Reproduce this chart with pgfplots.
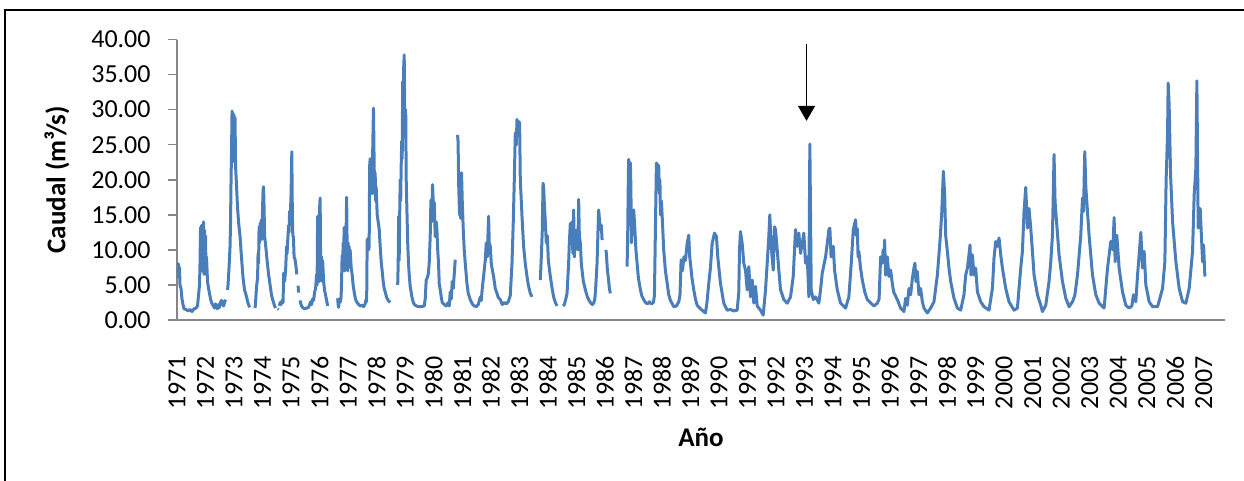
\documentclass[border=0pt]{standalone}
\usepackage{fontspec}
\setmainfont{Carlito}
\usepackage{pgfplots}
\pgfplotsset{compat=1.18}
\usepackage{pgfplotstable}
\usetikzlibrary{arrows.meta}
\definecolor{serie}{RGB}{74,126,187}
\definecolor{axgray}{RGB}{134,134,134}

\pgfplotstableread{
yr q
1971.000 6.0
1971.018 8.0
1971.035 7.2
1971.053 8.0
1971.070 6.0
1971.088 7.5
1971.105 5.0
1971.140 4.5
1971.175 3.0
1971.211 2.2
1971.246 1.6
1971.316 1.5
1971.386 1.3
1971.456 1.5
1971.526 1.2
1971.596 1.6
1971.667 1.7
1971.719 2.0
1971.754 3.5
1971.789 5.0
1971.807 8.0
1971.825 13.2
1971.842 8.5
1971.860 13.5
1971.877 7.0
1971.895 12.5
1971.912 9.0
1971.930 14.0
1971.947 6.5
1971.965 12.8
1971.982 7.0
1972.000 12.0
1972.018 6.5
1972.035 9.0
1972.070 5.5
1972.105 4.5
1972.140 3.8
1972.175 3.0
1972.211 2.5
1972.246 2.2
1972.281 2.0
1972.316 1.7
1972.351 2.3
1972.386 1.8
1972.421 1.6
1972.456 2.2
1972.491 1.8
1972.526 2.5
1972.561 2.8
1972.596 2.4
1972.632 2.0
1972.667 2.5
1972.702 2.9
1972.740 nan
1972.772 4.3
1972.789 5.0
1972.825 7.5
1972.860 10.5
1972.877 14.0
1972.895 20.0
1972.912 24.0
1972.930 29.8
1972.947 23.0
1972.965 29.5
1972.982 24.0
1973.000 29.2
1973.018 22.5
1973.035 28.8
1973.053 22.0
1973.088 19.0
1973.123 16.0
1973.158 14.0
1973.211 11.9
1973.263 8.8
1973.316 6.0
1973.368 4.3
1973.439 3.3
1973.491 2.4
1973.544 1.8
1973.600 nan
1973.737 1.7
1973.754 2.5
1973.789 4.8
1973.825 6.0
1973.842 9.5
1973.860 8.1
1973.877 13.3
1973.895 11.0
1973.912 13.8
1973.930 12.0
1973.947 14.0
1973.965 14.3
1973.982 11.5
1974.000 16.0
1974.018 18.5
1974.035 19.0
1974.053 16.0
1974.070 12.0
1974.088 11.4
1974.123 10.0
1974.158 8.5
1974.211 6.5
1974.263 5.0
1974.316 3.5
1974.368 2.7
1974.421 2.0
1974.456 1.7
1974.490 nan
1974.530 1.6
1974.561 1.5
1974.580 nan
1974.596 2.0
1974.614 2.5
1974.649 2.2
1974.684 2.8
1974.719 2.5
1974.737 6.7
1974.754 6.3
1974.772 5.5
1974.807 7.0
1974.842 10.5
1974.860 9.5
1974.877 11.0
1974.912 13.5
1974.930 12.5
1974.947 15.5
1974.965 14.0
1974.982 16.0
1975.000 18.0
1975.025 24.0
1975.042 16.0
1975.060 12.0
1975.081 11.9
1975.105 9.0
1975.140 8.6
1975.175 7.5
1975.200 6.5
1975.220 nan
1975.246 4.9
1975.263 3.9
1975.290 nan
1975.316 2.8
1975.333 2.4
1975.368 2.0
1975.421 1.7
1975.474 1.6
1975.544 1.7
1975.614 1.8
1975.649 2.2
1975.684 2.6
1975.719 2.2
1975.754 3.0
1975.789 2.8
1975.825 4.0
1975.860 4.5
1975.895 6.5
1975.912 5.0
1975.930 14.8
1975.947 7.0
1975.965 12.5
1975.982 5.5
1976.000 16.0
1976.018 17.4
1976.035 8.0
1976.053 6.0
1976.070 9.0
1976.088 5.5
1976.105 8.5
1976.123 7.0
1976.140 5.5
1976.175 4.2
1976.211 3.5
1976.246 2.8
1976.281 2.0
1976.300 nan
1976.632 3.1
1976.649 2.2
1976.667 1.8
1976.684 3.0
1976.719 2.5
1976.754 3.3
1976.772 6.0
1976.789 9.2
1976.807 7.5
1976.825 11.0
1976.842 9.0
1976.860 13.2
1976.877 7.0
1976.895 12.0
1976.912 8.0
1976.947 17.5
1976.965 10.0
1976.982 7.0
1977.000 11.0
1977.018 7.5
1977.035 10.5
1977.053 8.0
1977.070 10.0
1977.105 7.5
1977.140 6.5
1977.175 5.0
1977.211 4.0
1977.246 3.2
1977.281 2.7
1977.351 2.3
1977.421 2.0
1977.491 2.1
1977.544 1.9
1977.596 2.3
1977.632 3.0
1977.649 2.6
1977.667 11.5
1977.684 10.0
1977.702 11.7
1977.719 10.0
1977.737 10.5
1977.754 22.0
1977.772 23.0
1977.789 19.0
1977.807 22.8
1977.825 20.0
1977.842 18.0
1977.860 24.0
1977.888 30.2
1977.912 22.0
1977.930 18.0
1977.947 21.0
1977.965 17.0
1977.982 19.0
1978.018 15.0
1978.053 14.0
1978.088 13.0
1978.123 10.5
1978.158 8.3
1978.193 7.0
1978.228 5.5
1978.263 4.5
1978.298 4.0
1978.351 3.2
1978.404 2.8
1978.474 2.5
1978.500 nan
1978.737 5.0
1978.754 8.0
1978.772 14.8
1978.789 8.5
1978.807 15.0
1978.825 20.0
1978.842 17.0
1978.860 22.0
1978.877 25.5
1978.895 23.0
1978.912 34.0
1978.930 26.0
1978.947 36.0
1978.965 37.8
1978.982 30.0
1979.000 26.9
1979.018 30.0
1979.035 20.0
1979.060 15.7
1979.088 11.0
1979.116 8.1
1979.140 6.5
1979.175 4.8
1979.235 3.3
1979.291 2.4
1979.351 2.1
1979.456 1.9
1979.561 1.9
1979.667 2.0
1979.702 3.0
1979.737 5.7
1979.772 6.0
1979.807 6.5
1979.842 8.1
1979.877 12.0
1979.902 17.1
1979.930 14.0
1979.958 19.3
1979.982 17.0
1980.018 16.7
1980.053 11.9
1980.088 14.0
1980.112 12.9
1980.140 10.0
1980.168 8.1
1980.193 5.2
1980.228 4.3
1980.263 3.3
1980.298 2.5
1980.368 2.2
1980.439 2.0
1980.509 2.5
1980.544 2.0
1980.579 4.0
1980.614 3.0
1980.649 5.5
1980.684 4.5
1980.719 6.5
1980.754 8.6
1980.780 nan
1980.835 26.4
1980.853 25.5
1980.877 19.0
1980.905 15.0
1980.930 18.0
1980.947 14.5
1980.975 21.0
1981.000 17.0
1981.035 12.9
1981.070 10.0
1981.105 8.1
1981.165 5.2
1981.211 3.8
1981.281 2.9
1981.351 2.3
1981.421 2.0
1981.491 1.9
1981.561 2.2
1981.632 3.3
1981.667 2.8
1981.702 4.5
1981.747 6.2
1981.807 8.5
1981.842 11.0
1981.877 9.0
1981.923 14.8
1981.947 11.0
1981.982 10.5
1982.018 8.0
1982.098 6.2
1982.158 4.5
1982.218 3.8
1982.263 3.2
1982.333 2.9
1982.404 2.2
1982.474 2.5
1982.544 2.3
1982.614 2.6
1982.684 3.5
1982.744 8.1
1982.789 14.0
1982.825 20.0
1982.860 26.7
1982.895 25.0
1982.919 28.6
1982.947 27.0
1982.982 28.3
1983.011 28.1
1983.035 20.0
1983.095 14.8
1983.151 10.5
1983.211 8.0
1983.270 6.2
1983.316 5.0
1983.386 3.8
1983.446 3.3
1983.470 nan
1983.737 5.7
1983.772 9.0
1983.807 12.9
1983.832 19.5
1983.853 19.0
1983.877 16.7
1983.912 14.0
1983.947 11.0
1983.982 12.0
1984.018 8.5
1984.088 6.2
1984.158 4.3
1984.204 3.3
1984.263 2.5
1984.323 2.0
1984.350 nan
1984.533 2.0
1984.579 2.2
1984.632 3.0
1984.674 3.8
1984.702 6.0
1984.730 8.1
1984.754 11.0
1984.789 13.8
1984.825 11.0
1984.849 14.0
1984.877 9.5
1984.905 15.7
1984.930 9.0
1984.965 11.5
1985.025 12.9
1985.053 10.0
1985.081 17.2
1985.105 12.0
1985.140 11.0
1985.175 8.0
1985.211 6.7
1985.246 5.5
1985.316 4.3
1985.386 3.3
1985.432 2.9
1985.491 2.5
1985.561 2.2
1985.607 2.4
1985.649 3.0
1985.684 5.0
1985.726 8.1
1985.754 12.0
1985.782 15.7
1985.807 14.5
1985.842 12.9
1985.877 13.5
1985.902 11.4
1985.920 nan
1986.035 10.0
1986.053 9.5
1986.088 7.1
1986.123 6.0
1986.158 4.5
1986.193 3.8
1986.220 nan
1986.779 7.6
1986.800 12.0
1986.825 21.0
1986.835 22.9
1986.860 20.0
1986.877 21.5
1986.895 22.4
1986.912 19.0
1986.930 11.0
1986.965 14.0
1987.011 15.7
1987.053 12.9
1987.088 10.0
1987.130 8.1
1987.175 6.0
1987.246 4.3
1987.298 3.4
1987.362 2.9
1987.421 2.5
1987.491 2.3
1987.561 2.6
1987.632 2.3
1987.702 2.5
1987.737 3.5
1987.772 12.9
1987.807 22.4
1987.832 21.0
1987.853 22.2
1987.888 21.9
1987.912 18.0
1987.930 20.0
1987.947 15.0
1987.982 17.0
1988.018 14.0
1988.063 10.0
1988.123 7.0
1988.193 5.0
1988.239 3.6
1988.298 2.8
1988.414 1.9
1988.509 2.0
1988.590 2.6
1988.632 3.5
1988.674 8.6
1988.719 7.0
1988.772 9.0
1988.825 8.5
1988.884 10.9
1988.940 12.1
1988.975 9.0
1989.000 8.1
1989.053 6.0
1989.116 4.3
1989.175 3.0
1989.235 2.1
1989.351 1.6
1989.467 1.2
1989.526 1.0
1989.579 2.5
1989.642 5.2
1989.702 7.5
1989.761 10.9
1989.842 12.4
1989.912 11.9
1989.958 9.0
1990.053 5.2
1990.168 2.4
1990.288 1.4
1990.404 1.5
1990.519 1.3
1990.639 1.4
1990.695 4.0
1990.719 10.0
1990.754 12.6
1990.814 10.9
1990.870 8.1
1990.930 7.1
1990.989 4.3
1991.046 7.6
1991.105 3.3
1991.165 5.7
1991.221 2.4
1991.281 4.8
1991.340 2.0
1991.456 1.4
1991.551 0.7
1991.632 4.3
1991.691 8.1
1991.747 11.9
1991.782 15.0
1991.832 10.5
1991.902 7.1
1991.947 13.3
1991.982 12.9
1992.042 10.0
1992.098 7.1
1992.158 4.3
1992.274 2.9
1992.393 2.4
1992.509 3.3
1992.603 6.2
1992.684 12.9
1992.744 10.5
1992.800 12.4
1992.860 9.5
1992.919 10.9
1992.975 12.4
1993.035 8.1
1993.095 9.0
1993.151 3.3
1993.186 25.1
1993.235 4.3
1993.305 2.9
1993.386 3.3
1993.502 2.4
1993.561 4.3
1993.621 6.7
1993.737 9.0
1993.796 10.9
1993.853 12.9
1993.888 13.1
1993.930 9.0
1994.007 10.5
1994.053 7.1
1994.147 4.3
1994.263 2.4
1994.439 1.7
1994.554 3.3
1994.638 8.1
1994.709 12.9
1994.789 14.3
1994.820 12.0
1994.849 13.0
1994.877 9.0
1994.905 9.8
1994.960 7.5
1995.025 5.7
1995.110 4.0
1995.200 2.9
1995.432 2.0
1995.551 2.4
1995.614 3.0
1995.667 9.0
1995.726 8.1
1995.754 10.0
1995.782 8.5
1995.807 11.4
1995.842 6.4
1995.902 9.0
1995.958 6.2
1996.018 7.1
1996.077 5.2
1996.123 4.0
1996.253 2.9
1996.368 1.7
1996.484 1.2
1996.544 3.1
1996.603 2.1
1996.660 4.5
1996.719 3.6
1996.779 5.9
1996.835 7.4
1996.870 8.1
1996.905 5.5
1996.954 6.9
1997.011 3.6
1997.070 4.5
1997.130 2.6
1997.186 1.7
1997.305 1.0
1997.421 1.7
1997.537 2.6
1997.656 6.4
1997.747 11.2
1997.807 15.0
1997.867 21.2
1997.912 17.9
1997.947 12.1
1998.007 9.8
1998.063 7.4
1998.123 5.5
1998.239 3.1
1998.358 1.7
1998.474 1.4
1998.589 3.6
1998.649 6.4
1998.709 7.4
1998.765 9.3
1998.800 10.7
1998.835 6.4
1998.884 9.3
1998.940 6.4
1999.000 7.4
1999.060 4.0
1999.175 2.6
1999.291 1.9
1999.467 1.4
1999.586 4.5
1999.642 8.8
1999.702 11.2
1999.761 10.5
1999.818 11.7
1999.877 9.3
1999.937 7.4
2000.053 4.5
2000.168 2.6
2000.344 1.4
2000.463 1.7
2000.519 4.5
2000.579 7.4
2000.638 9.8
2000.695 15.5
2000.754 18.9
2000.814 13.1
2000.870 15.9
2000.930 13.1
2000.989 9.8
2001.046 6.4
2001.165 3.6
2001.281 2.1
2001.340 1.2
2001.456 2.1
2001.572 5.5
2001.632 8.3
2001.691 12.1
2001.747 23.6
2001.782 16.9
2001.842 13.6
2001.923 9.3
2002.042 5.5
2002.158 3.1
2002.274 1.9
2002.393 2.6
2002.474 3.5
2002.568 6.4
2002.684 12.1
2002.744 17.4
2002.779 15.5
2002.825 24.0
2002.860 19.0
2002.895 16.9
2002.975 12.1
2003.095 6.4
2003.211 3.6
2003.326 2.4
2003.502 1.7
2003.621 7.4
2003.737 11.2
2003.807 10.0
2003.853 14.6
2003.888 8.3
2003.947 12.1
2004.028 7.4
2004.147 4.0
2004.263 2.1
2004.379 1.7
2004.474 2.0
2004.533 3.6
2004.614 2.6
2004.674 6.4
2004.730 9.3
2004.789 12.5
2004.849 7.4
2004.905 9.8
2004.965 5.0
2005.081 2.6
2005.200 1.9
2005.376 1.9
2005.551 4.5
2005.632 8.3
2005.677 20.2
2005.726 26.4
2005.747 33.8
2005.782 30.7
2005.832 20.7
2005.902 14.0
2006.018 8.3
2006.133 4.5
2006.253 2.6
2006.368 2.4
2006.484 4.5
2006.603 9.8
2006.660 17.9
2006.719 21.7
2006.754 34.1
2006.800 13.1
2006.870 15.9
2006.954 8.3
2006.989 10.7
2007.035 6.2
}\flow

\begin{document}
\begin{tikzpicture}
\useasboundingbox (0,0) rectangle (622pt,240.5pt);
\draw[line width=1pt] (2.5pt,-10pt) -- (2.5pt,235.5pt) -- (640pt,235.5pt);
\begin{axis}[
  at={(88.5pt,80.5pt)}, anchor=south west,
  scale only axis, width=524pt, height=140.25pt,
  xmin=1971, xmax=2007.74, ymin=0, ymax=40,
  axis x line=bottom, axis y line=left,
  axis line style={-, axgray, line width=0.8pt},
  xtick={1971,...,2007},
  xtick style={draw=none},
  ytick={0,5,...,40},
  ytick style={axgray, line width=0.8pt},
  tick align=outside,
  major tick length=4.5pt,
  /pgf/number format/assume math mode=true,
  tick label style={font=\fontsize{13}{15}\selectfont, inner sep=0pt},
  yticklabel style={/pgf/number format/fixed, /pgf/number format/fixed zerofill, /pgf/number format/precision=2},
  xticklabel style={rotate=90, anchor=east, /pgf/number format/1000 sep={}},
  yticklabel shift=8.5pt,
  xticklabel shift=13.5pt,
  every axis y label/.style={at={(axis description cs:-0.1145,0.5)}, rotate=90, anchor=center, font=\bfseries\fontsize{13.5}{16}\selectfont},
  every axis x label/.style={at={(axis description cs:0.5,-0.417)}, anchor=center, font=\bfseries\fontsize{13.5}{16}\selectfont},
  ylabel={Caudal (m³/s)},
  xlabel={Año},
  unbounded coords=jump,
]
\addplot[serie, line width=1.5pt, line join=round, no markers] table[x=yr, y=q] {\flow};
\draw[black, line width=0.75pt, -{Triangle[width=8.5pt,length=7.5pt]}] (axis cs:1993.07,39.3) -- (axis cs:1993.07,28.4);
\end{axis}
\end{tikzpicture}
\end{document}
